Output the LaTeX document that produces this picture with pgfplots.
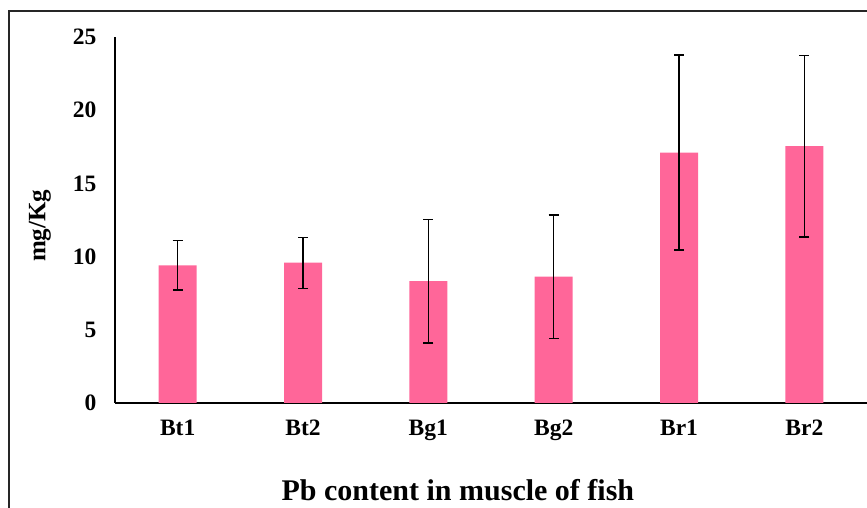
\documentclass[border=0pt]{standalone}
\usepackage{fontspec}
\setmainfont{Liberation Serif}
\usepackage{pgfplots}
\pgfplotsset{compat=1.18}
\definecolor{barpink}{RGB}{255,102,153}
\begin{document}
\begin{tikzpicture}[x=1pt,y=1pt]
\useasboundingbox (0,0) rectangle (867,508);
\draw[line width=1.5pt, black!85] (9,-30) rectangle (900,497);
\begin{axis}[
  at={(115pt,105pt)}, anchor=south west,
  scale only axis, width=752pt, height=366pt,
  xmin=-0.5, xmax=5.5, ymin=0, ymax=25,
  axis x line*=bottom, axis y line*=left,
  x axis line style={-}, y axis line style={-},
  axis line style={line width=1.5pt, black},
  xtick=data, xticklabels={Bt1,Bt2,Bg1,Bg2,Br1,Br2},
  ytick={0,5,...,25},
  major tick length=0pt,
  /pgf/number format/assume math mode=true,
  tick label style={font=\fontsize{23.5}{26}\selectfont\bfseries},
  yticklabel style={xshift=-15pt},
  xticklabel style={yshift=-13pt},
  xlabel={Pb content in muscle of fish},
  xlabel style={font=\fontsize{30}{34}\selectfont\bfseries, at={(axis description cs:0.456,0)}, anchor=center, yshift=-87pt},
  ylabel={mg/Kg},
  ylabel style={font=\fontsize{25}{28}\selectfont\bfseries, at={(axis description cs:-0.0997,0.484)}, anchor=center, rotate=0},
  clip=false,
]
\addplot[ybar, bar width=38pt, fill=barpink, draw=none,
  error bars/.cd, y dir=both, y explicit,
  error bar style={line width=1.4pt, black},
  error mark options={rotate=90, mark size=5pt, line width=1.4pt, black}]
  table[x=x, y=y, y error=e] {
x y e
0 9.40 1.68
1 9.58 1.74
2 8.33 4.22
3 8.63 4.22
4 17.10 6.66
5 17.55 6.20
};
\end{axis}
\end{tikzpicture}
\end{document}
